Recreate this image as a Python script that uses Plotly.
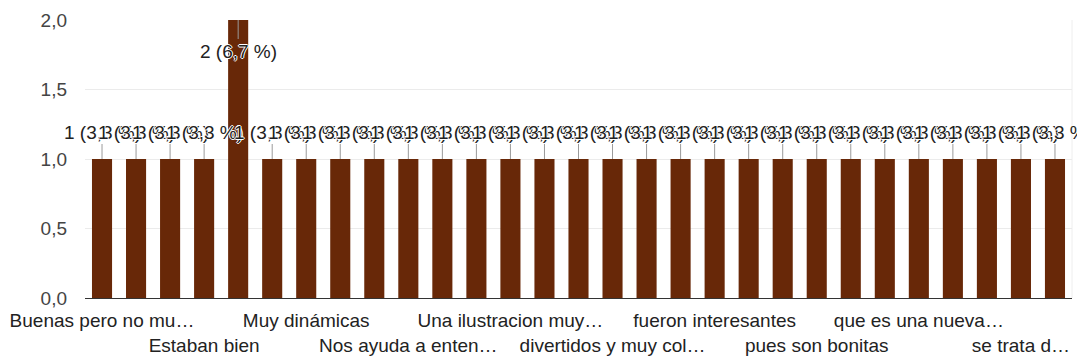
import plotly.graph_objects as go

categories = [
    "Buenas pero no muy claras", "Buenas y entendibles", "Divertidas", "Estaban bien",
    "Interesantes", "Me gustaron mucho", "Muy dinámicas", "Muy educativas",
    "Muy interesantes", "Nos ayuda a entender mejor", "Porque son claras",
    "Son muy buenas", "Una ilustracion muy bonita", "bien", "buenas",
    "divertidos y muy coloridos", "excelentes", "fue divertido",
    "fueron interesantes", "me gusto", "muy buenas", "pues son bonitas",
    "que aprendimos", "que enseñan bien", "que es una nueva forma de aprender",
    "queda claro", "se entienden", "se trata de aprender", "son buenas",
]
values = [1, 1, 1, 1, 2, 1, 1, 1, 1, 1, 1, 1, 1, 1, 1, 1, 1, 1, 1, 1, 1, 1, 1, 1, 1, 1, 1, 1, 1]
tick_indices = [0, 3, 6, 9, 12, 15, 18, 21, 24, 27]
tick_labels = [
    "Buenas pero no mu…", "Estaban bien", "Muy dinámicas", "Nos ayuda a enten…",
    "Una ilustracion muy…", "divertidos y muy col…", "fueron interesantes",
    "pues son bonitas", "que es una nueva…", "se trata d…",
]
y_ticks = [0, 0.5, 1.0, 1.5, 2.0]

total = sum(values)
ymax = max(y_ticks)
FONT = "Liberation Sans, Arial, sans-serif"
BAR = "#682808"

fig = go.Figure(go.Bar(x=categories, y=values, marker=dict(color=BAR, line=dict(width=0)),
                       hoverinfo="skip"))

halo = ", ".join(f"{dx}px {dy}px 0px #fff" for dx, dy in
                 [(1, 0), (-1, 0), (0, 1), (0, -1)])

annotations = []
for c, v in zip(categories, values):
    pct = f"{v / total * 100:.1f}".replace(".", ",")
    annotations.append(dict(
        x=c, y=v, xref="x", yref="y", text=f"{v} ({pct} %)",
        showarrow=True, arrowhead=0, arrowwidth=1, arrowcolor="#9a9a9a",
        ax=0, ay=(31 if v >= ymax else -27), standoff=0,
        font=dict(family=FONT, size=19, color="#222", shadow=halo),
    ))

ticktext = [("<br>" + t) if k % 2 else t for k, t in enumerate(tick_labels)]

fig.update_layout(
    width=1077, height=361,
    margin=dict(l=85, r=5, t=20, b=60),
    paper_bgcolor="white", plot_bgcolor="white",
    separators=", ",
    bargap=0.41,
    showlegend=False,
    annotations=annotations,
    shapes=[dict(type="line", xref="paper", yref="paper", x0=1, x1=1, y0=0, y1=1,
                 line=dict(color="#eeeeee", width=1), layer="below")],
    xaxis=dict(
        type="category", tickvals=[categories[i] for i in tick_indices], ticktext=ticktext,
        tickangle=0, ticks="", showgrid=False, showline=True, linecolor="#333", linewidth=1,
        tickfont=dict(family=FONT, size=19, color="#222"), range=[-0.5, len(categories) - 0.5],
        ticklabelstandoff=5, fixedrange=True,
    ),
    yaxis=dict(
        range=[0, ymax], tickvals=y_ticks, tickformat=".1f", ticks="",
        showgrid=True, gridcolor="#ebebeb", gridwidth=1, zeroline=False, showline=False,
        tickfont=dict(family=FONT, size=19, color="#444"), ticklabelstandoff=17,
        fixedrange=True,
    ),
)

fig.write_html(
    "out.html",
    config={"displayModeBar": False},
    post_script="document.body.style.margin='0';document.body.style.overflow='hidden';",
)
